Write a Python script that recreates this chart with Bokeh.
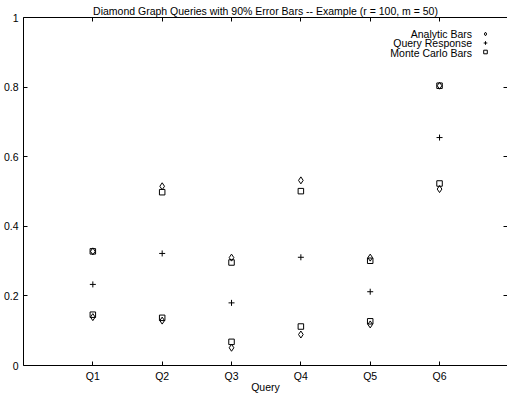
from bokeh.plotting import figure
from bokeh.models import Range1d, FixedTicker, LinearAxis, Legend, LegendItem, Label
from bokeh.embed import file_html
from bokeh.resources import INLINE

# ---- data ----
categories = ["Q1", "Q2", "Q3", "Q4", "Q5", "Q6"]
analytic_low = [0.139, 0.129, 0.051, 0.089, 0.118, 0.507]
analytic_high = [0.328, 0.515, 0.310, 0.532, 0.310, 0.804]
response = [0.233, 0.322, 0.180, 0.311, 0.212, 0.655]
mc_low = [0.146, 0.137, 0.068, 0.112, 0.127, 0.523]
mc_high = [0.328, 0.498, 0.296, 0.501, 0.301, 0.804]
y_ticks = [0, 0.2, 0.4, 0.6, 0.8, 1]
y_tick_labels = ["0", "0.2", "0.4", "0.6", "0.8", "1"]
series_names = ["Analytic Bars", "Query Response", "Monte Carlo Bars"]
title_text = "Diamond Graph Queries with 90% Error Bars -- Example (r = 100, m = 50)"
x_label = "Query"

xs = list(range(1, len(categories) + 1))

FONT = "Liberation Sans"
FS = "10.5px"

p = figure(width=507, height=396, output_backend="svg", toolbar_location=None,
           x_range=Range1d(0, 6.98), y_range=Range1d(0, 1),
           x_axis_location=None, y_axis_location=None,
           min_border_left=23, min_border_right=0, min_border_top=17,
           min_border_bottom=31)
p.outline_line_color = None
p.xgrid.visible = False
p.ygrid.visible = False
p.background_fill_color = "white"
p.border_fill_color = "white"

p.title.text = title_text
p.title.align = "center"
p.title.text_font = FONT
p.title.text_font_size = FS
p.title.text_font_style = "normal"
p.title.text_color = "black"
p.title.standoff = 2
p.title.offset = 0


def style_axis(ax, labels=True):
    ax.major_tick_in = 4
    ax.major_tick_out = 0
    ax.minor_tick_line_color = None
    ax.major_tick_line_color = "black"
    ax.axis_line_color = "black"
    ax.major_label_text_font = FONT
    ax.major_label_text_font_size = FS
    ax.major_label_text_color = "black"
    ax.axis_label_text_font = FONT
    ax.axis_label_text_font_size = FS
    ax.axis_label_text_font_style = "normal"
    ax.axis_label_text_color = "black"
    if not labels:
        ax.major_label_text_font_size = "0px"
        ax.major_label_standoff = 0


xaxis = LinearAxis(ticker=FixedTicker(ticks=xs),
                   major_label_overrides={x: c for x, c in zip(xs, categories)},
                   axis_label=x_label)
style_axis(xaxis)
xaxis.major_label_standoff = 4
xaxis.axis_label_standoff = -4
p.add_layout(xaxis, "below")

yaxis = LinearAxis(ticker=FixedTicker(ticks=y_ticks),
                   major_label_overrides={t: l for t, l in zip(y_ticks, y_tick_labels)})
style_axis(yaxis)
yaxis.major_label_standoff = 5
p.add_layout(yaxis, "left")

top_axis = LinearAxis(ticker=FixedTicker(ticks=xs),
                      major_label_overrides={x: "" for x in xs})
style_axis(top_axis, labels=False)
p.add_layout(top_axis, "above")

right_axis = LinearAxis(ticker=FixedTicker(ticks=y_ticks),
                        major_label_overrides={t: "" for t in y_ticks})
style_axis(right_axis, labels=False)
right_axis.axis_line_color = None
p.add_layout(right_axis, "right")

r_a1 = p.scatter(xs, analytic_low, marker="diamond", size=7, fill_color=None,
                 line_color="black", line_width=1)
r_a2 = p.scatter(xs, analytic_high, marker="diamond", size=7, fill_color=None,
                 line_color="black", line_width=1)
r_q = p.scatter(xs, response, marker="cross", size=6, line_color="black",
                line_width=1)
r_m1 = p.scatter(xs, mc_low, marker="square", size=5.5, fill_color=None,
                 line_color="black", line_width=1)
r_m2 = p.scatter(xs, mc_high, marker="square", size=5.5, fill_color=None,
                 line_color="black", line_width=1)

# legend: symbols from a Legend (no label text), texts right-aligned to their left
legend = Legend(items=[LegendItem(label="", renderers=[r_a1]),
                       LegendItem(label="", renderers=[r_q]),
                       LegendItem(label="", renderers=[r_m1])],
                location=(457, 309.5),
                glyph_width=10, glyph_height=9, label_standoff=0,
                label_width=0, label_height=9,
                spacing=0, padding=0, margin=0,
                border_line_color=None, background_fill_alpha=0,
                label_text_font=FONT, label_text_font_size="1px")
p.add_layout(legend)

row_y = [332, 322.5, 313]
for name, yy in zip(series_names, row_y):
    p.add_layout(Label(x=448.5, y=yy, x_units="screen", y_units="screen",
                       text=name, text_align="right", text_baseline="middle",
                       text_font=FONT, text_font_size=FS, text_color="black"))

open("out.html", "w").write(file_html(p, INLINE))
